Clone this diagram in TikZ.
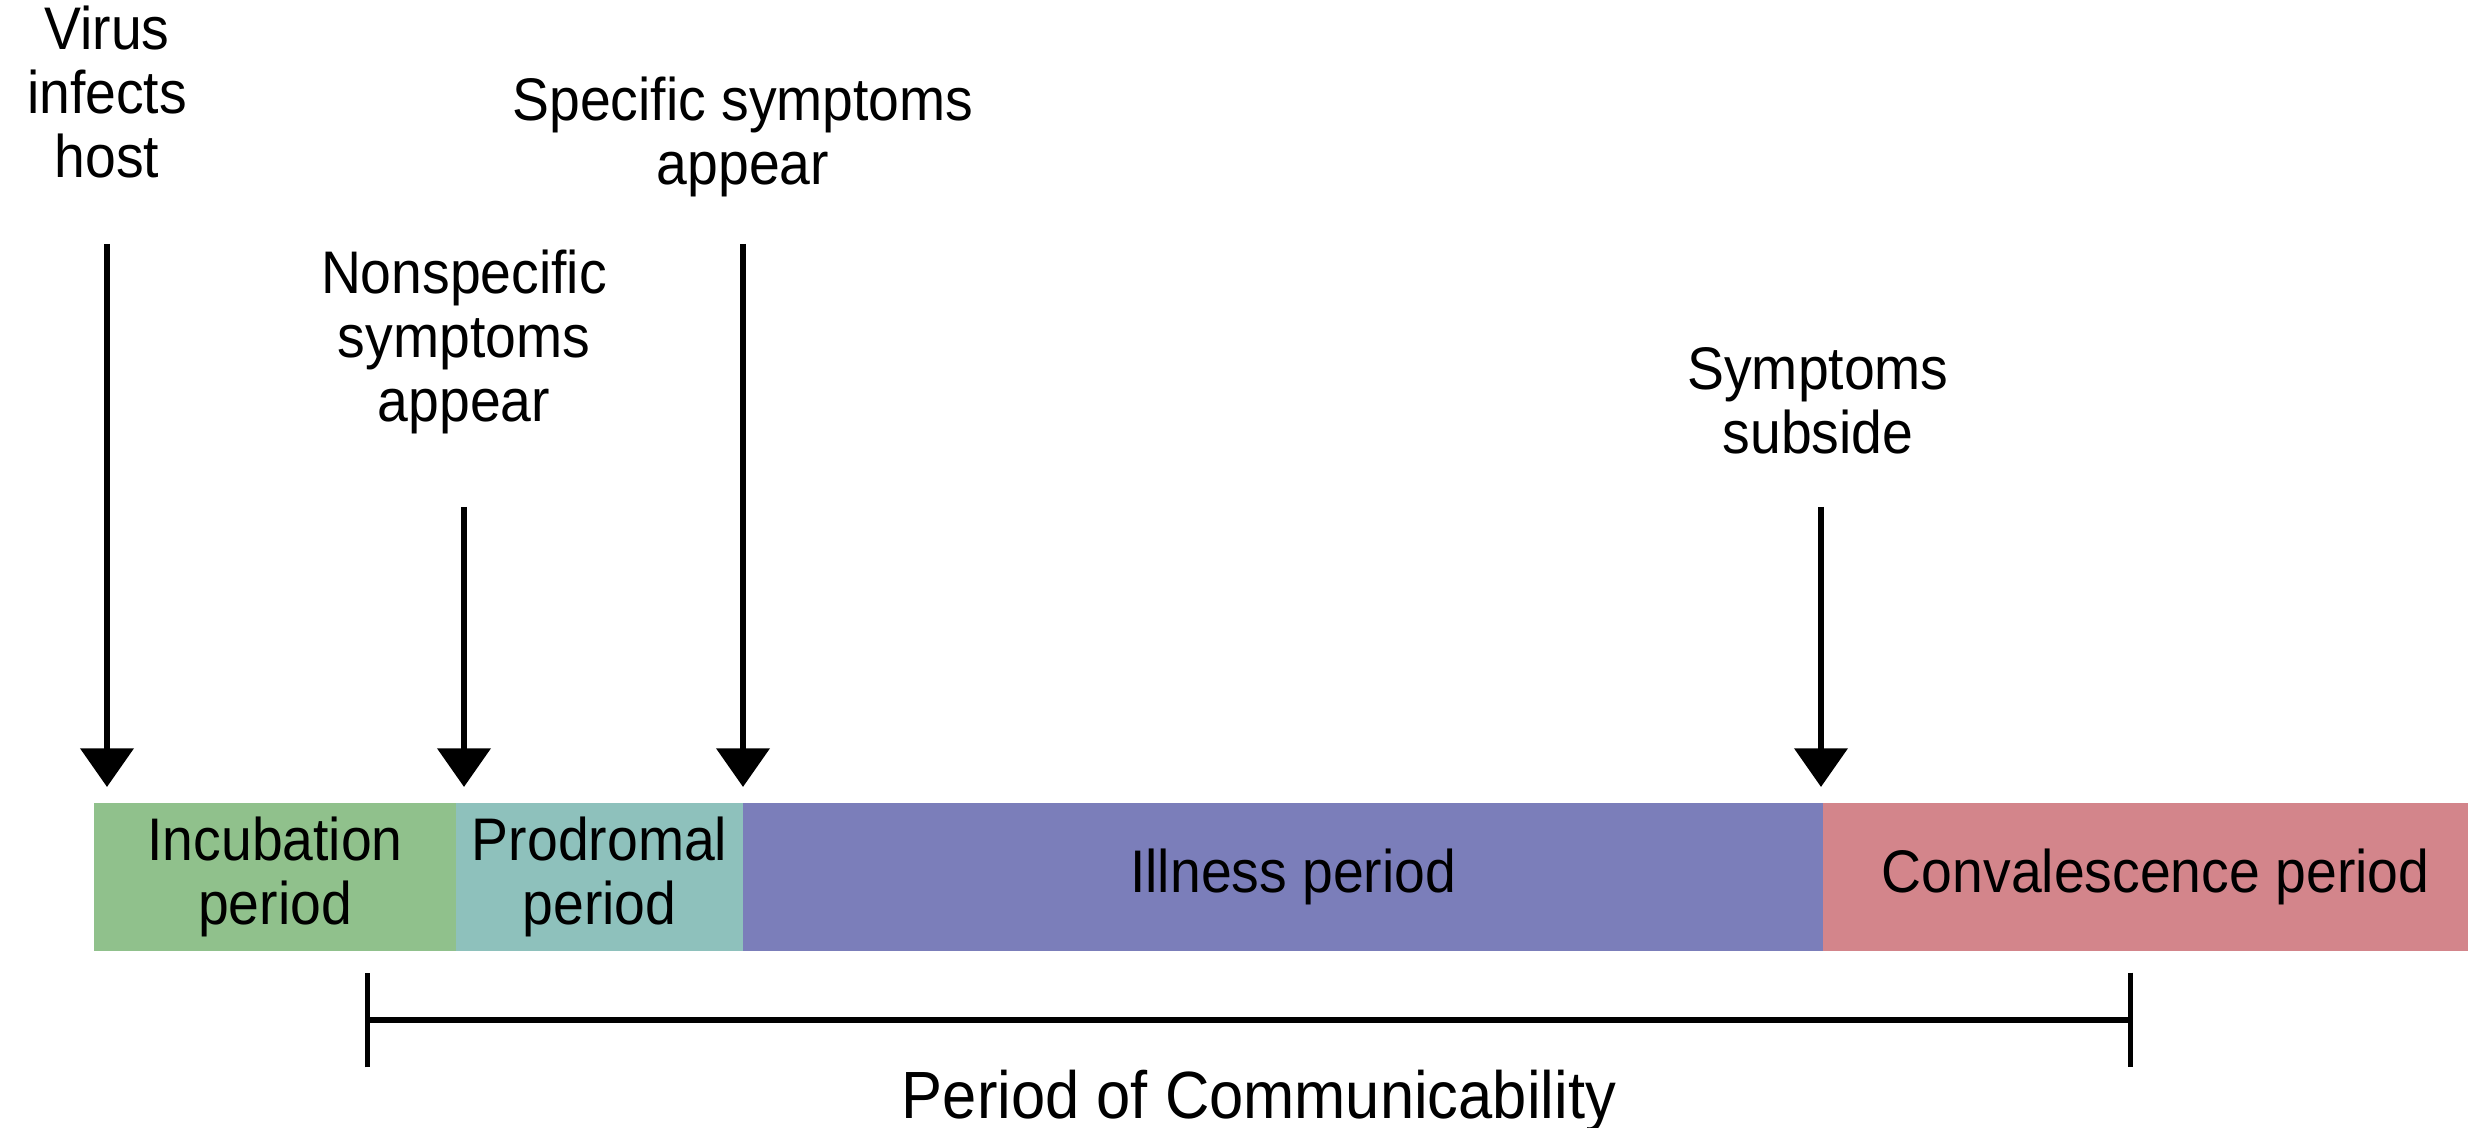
\documentclass[tikz,border=0pt]{standalone}
\usepackage{fontspec}
\setmainfont{Liberation Sans}[FakeStretch=0.92]
\usetikzlibrary{arrows.meta}
\definecolor{incgreen}{RGB}{144,193,140}
\definecolor{proteal}{RGB}{142,193,188}
\definecolor{illpurple}{RGB}{123,126,186}
\definecolor{conpink}{RGB}{211,133,139}
\begin{document}
\begin{tikzpicture}[x=0.01cm,y=-0.01cm,
    lbl/.style={align=center,font=\fontsize{17.1}{18.2}\selectfont},
    seg/.style={lbl,anchor=west,minimum height=1.48cm,inner sep=0pt,outer sep=0pt},
    evt/.style={line width=1.5pt,-{Triangle[width=15pt,length=11pt]},shorten >=0.16cm},
    span/.style={line width=1.8pt,{Bar[width=27pt,line width=1.5pt]}-{Bar[width=27pt,line width=1.5pt]}}]
    \useasboundingbox (0,0) rectangle (2468,1128);
    % the four periods
    \node at (94,877) [seg,fill=incgreen,minimum width=3.62cm] (inc) {Incubation\\period};
    \node at (456,877) [seg,fill=proteal,minimum width=2.87cm] (pro) {Prodromal\\period};
    \node at (743,877) [seg,fill=illpurple,minimum width=10.8cm] (ill) {\hspace*{0.2cm}Illness period};
    \node at (1823,877) [seg,fill=conpink,minimum width=6.45cm] (con) {\hspace*{0.2cm}Convalescence period};
    % events
    \node at (107,92) [lbl] (virus) {Virus\\infects\\host};
    \node at (464,342) [lbl] (nonspec) {Nonspecific\\symptoms\\appear};
    \node at (743,137) [lbl] (spec) {Specific symptoms\\appear};
    \node at (1818,401) [lbl] (subside) {Symptoms\\subside};
    \coordinate (s1) at (107,244);
    \coordinate (s2) at (464,507);
    \coordinate (s3) at (743,244);
    \coordinate (s4) at (1821,507);
    \draw[evt] (s1) -- (s1 |- inc.north);
    \draw[evt] (s2) -- (s2 |- pro.north);
    \draw[evt] (s3) -- (s3 |- ill.north);
    \draw[evt] (s4) -- (s4 |- con.north);
    % communicability
    \coordinate (cl) at (365,1020);
    \coordinate (cr) at (2133,1020);
    \draw[span] (cl) -- (cr);
    \node at (1259,1119) [anchor=base,font=\fontsize{19}{20}\selectfont,inner sep=0pt] (comm) {Period of Communicability};
\end{tikzpicture}
\end{document}
